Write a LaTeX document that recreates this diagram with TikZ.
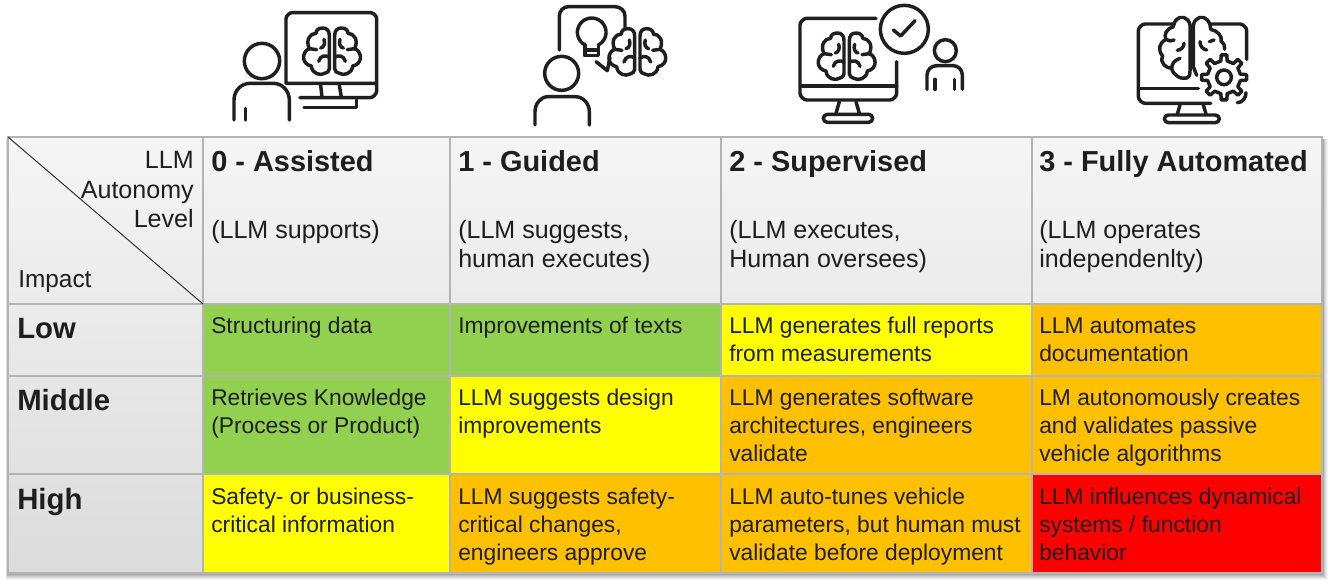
\documentclass[tikz,border=0pt]{standalone}
\usepackage{fontspec}
\setmainfont{Liberation Sans}
\definecolor{gridc}{HTML}{B4B4B4}
\definecolor{inkc}{HTML}{1E1E1E}
\definecolor{lowc}{HTML}{92D050}
\definecolor{midc}{HTML}{FFFF00}
\definecolor{higc}{HTML}{FFC000}
\definecolor{topc}{HTML}{FF0000}
\tikzset{
  icon/.style={line width=2.6pt,line cap=round,line join=round,black!88},
  body/.style={anchor=north west,inner sep=0pt,align=left,text=inkc,font=\fontsize{17.1}{21}\selectfont},
  rhead/.style={anchor=north east,inner sep=0pt,align=right,text=inkc,font=\fontsize{18.8}{22.4}\selectfont},
  sub/.style={anchor=north west,inner sep=0pt,align=left,text=inkc,font=\fontsize{18.8}{21.8}\selectfont},
  title/.style={anchor=base west,inner sep=0pt,text=inkc,font=\fontsize{21.7}{26}\selectfont\bfseries},
  level/.style={anchor=base west,inner sep=0pt,text=inkc,font=\fontsize{22}{26}\selectfont\bfseries},
  halfbrain/.pic={
    \draw[icon] (8,-43) .. controls (8,-58) and (15,-66) .. (28,-66)
      .. controls (40,-66) and (48,-60) .. (48,-50)
      .. controls (66,-50) and (80,-30) .. (68,-4)
      .. controls (90,4) and (94,42) .. (62,48)
      .. controls (60,72) and (34,78) .. (22,70)
      .. controls (14,68) and (8,64) .. (8,56) -- cycle;
    \draw[icon] (24,-32) .. controls (20,-20) and (24,-8) .. (34,-6);
    \draw[icon] (68,-4) -- (46,-1);
    \draw[icon] (8,22) .. controls (18,14) and (36,16) .. (40,34);
  }
}
\begin{document}
\begin{tikzpicture}[x=0.75pt,y=-0.75pt]
\useasboundingbox (0,0) rectangle (1330,585);
\fill[white] (0,0) rectangle (1330,585);
% table shadow
\foreach \s/\o in {7/.04,6/.05,5/.06,4/.07,3/.08,2/.09,1/.09}
  \fill[black,opacity=\o] (8-\s*0.35,139) rectangle (1322+\s*0.8,573+\s*1.0);
% header fills
\shade[top color=white!96!black,bottom color=white!92!black] (8,137) rectangle (1322,304);
\shade[top color=white!92!black,bottom color=white!86!black] (8,304) rectangle (203,573);
% heat cells
\fill[lowc] (203,304) rectangle (721,376);
\fill[higc] (721,304) rectangle (1322,376);
\fill[midc] (721,304) rectangle (1032,376);
\fill[lowc] (203,376) rectangle (450,474);
\fill[midc] (450,376) rectangle (721,474);
\fill[higc] (721,376) rectangle (1322,474);
\fill[midc] (203,474) rectangle (450,573);
\fill[higc] (450,474) rectangle (1032,573);
\fill[topc] (1032,474) rectangle (1322,573);
% grid
\draw[gridc,line width=1.1pt] (8,137) rectangle (1322,573);
\foreach \x in {203,450,721,1032} \draw[gridc,line width=1pt] (\x,137) -- (\x,573);
\foreach \y in {304,376,474} \draw[gridc,line width=1pt] (8,\y) -- (1322,\y);
\coordinate (diagA) at (8,137);
\coordinate (diagB) at (203,304);
\draw[black!85,line width=0.7pt] (diagA) -- (diagB);
% corner
\node[rhead] (corner) at (194,147) {\strut LLM\\Autonomy\\Level};
\node[anchor=base west,inner sep=0pt,text=inkc,font=\fontsize{18.3}{21}\selectfont] (impact) at (18,287) {Impact};
% column heads
\node[title] (t0) at (211,171) {0 - Assisted};
\node[title] (t1) at (458,171) {1 - Guided};
\node[title] (t2) at (729,171) {2 - Supervised};
\node[title] (t3) at (1039,171) {3 - Fully Automated};
\node[sub] (s0) at (211,218) {\strut (LLM supports)};
\node[sub] (s1) at (458,218) {\strut (LLM suggests,\\human executes)};
\node[sub] (s2) at (729,218) {\strut (LLM executes,\\Human oversees)};
\node[sub] (s3) at (1039,218) {\strut (LLM operates\\independenlty)};
% row heads
\node[level] (rlow) at (17,338) {Low};
\node[level] (rmid) at (17,410) {Middle};
\node[level] (rhig) at (17,509) {High};
% cells
\node[body] (c00) at (211,313.4) {\strut Structuring data};
\node[body] (c01) at (458,313.4) {\strut Improvements of texts};
\node[body] (c02) at (729,313.4) {\strut LLM generates full reports\\from measurements};
\node[body] (c03) at (1039,313.4) {\strut LLM automates\\documentation};
\node[body] (c10) at (211,385.4) {\strut Retrieves Knowledge\\(Process or Product)};
\node[body] (c11) at (458,385.4) {\strut LLM suggests design\\improvements};
\node[body] (c12) at (729,385.4) {\strut LLM generates software\\architectures, engineers\\validate};
\node[body] (c13) at (1039,385.4) {\strut LM autonomously creates\\and validates passive\\vehicle algorithms};
\node[body] (c20) at (211,484.4) {\strut Safety- or business-\\critical information};
\node[body] (c21) at (458,484.4) {\strut LLM suggests safety-\\critical changes,\\engineers approve};
\node[body] (c22) at (729,484.4) {\strut LLM auto-tunes vehicle\\parameters, but human must\\validate before deployment};
\node[body] (c23) at (1039,484.4) {\strut LLM influences dynamical\\systems / function\\behavior};
% icon 0
\begin{scope}[shift={(200,0)},x=0.25pt,y=-0.25pt]
  \draw[icon] (300,293) -- (510,293) to[out=0,in=-90,looseness=.8] (530,273) -- (530,56) to[out=90,in=0,looseness=.8] (512,38) -- (276,38) to[out=180,in=90,looseness=.8] (258,56) -- (258,250) -- (528,250);
  \draw[icon] (362,256) -- (366,291) (418,256) -- (424,291);
  \draw[icon] (312,322) -- (470,322) -- (470,300);
  \draw[icon] (186,183) circle (53);
  \draw[icon] (102,360) -- (102,300) to[out=90,in=180] (150,250) -- (220,250) to[out=0,in=90] (268,300) -- (268,360);
  \draw[icon] (137,325) -- (137,360);
  \pic[shift={(396,150)}] {halfbrain};
  \pic[shift={(396,150)},xscale=-1] {halfbrain};
\end{scope}
% icon 1
\begin{scope}[shift={(510,0)},x=0.25pt,y=-0.25pt]
  \draw[icon] (148,150) -- (148,48) to[out=90,in=180] (175,20) -- (315,20) to[out=0,in=90] (345,48) -- (345,88);
  \draw[icon] (225,135) arc[start angle=118,end angle=422,radius=43];
  \draw[icon] (225,135) -- (225,167) -- (265,167) -- (265,135) (225,150) -- (265,150);
  \draw[icon] (258,185) -- (292,212) -- (300,172);
  \begin{scope}[shift={(382,152)},scale=.8]
    \pic {halfbrain};
    \pic[xscale=-1] {halfbrain};
  \end{scope}
  \draw[icon] (155,220) circle (51);
  \draw[icon] (75,375) -- (75,335) to[out=90,in=180] (115,290) -- (195,290) to[out=0,in=90] (238,335) -- (238,375);
\end{scope}
% icon 2
\begin{scope}[shift={(780,0)},x=0.25pt,y=-0.25pt]
  \draw[icon] (288,55) -- (80,55) to[out=180,in=90,looseness=.8] (60,75) -- (60,280) to[out=-90,in=180,looseness=.8] (80,300) -- (330,300) to[out=0,in=-90,looseness=.8] (350,280) -- (350,185);
  \draw[icon] (62,258) -- (350,258);
  \draw[icon] (178,305) -- (168,340) (228,305) -- (238,340);
  \draw[icon,rounded corners=3pt] (130,343) rectangle (278,367);
  \begin{scope}[shift={(200,165)},scale=.95]
    \pic {halfbrain};
    \pic[xscale=-1] {halfbrain};
  \end{scope}
  \draw[icon] (373,88) circle (72);
  \draw[icon] (340,90) -- (362,108) -- (405,62);
  \draw[icon] (496,152) circle (33);
  \draw[icon] (441,268) -- (441,225) to[out=90,in=180] (470,197) -- (520,197) to[out=0,in=90] (547,225) -- (547,268);
  \draw[icon] (465,238) -- (465,268) (523,238) -- (523,268);
\end{scope}
% icon 3
\begin{scope}[shift={(1120,0)},x=0.25pt,y=-0.25pt]
  \draw[icon] (163,72) -- (75,72) to[out=180,in=90,looseness=.8] (55,92) -- (55,290) to[out=-90,in=180,looseness=.8] (75,310) -- (272,310);
  \draw[icon] (272,72) -- (360,72) to[out=0,in=90,looseness=.8] (380,92) -- (380,178);
  \draw[icon] (352,308) to[out=0,in=-90] (378,278);
  \draw[icon] (58,265) -- (235,265);
  \draw[icon] (180,315) -- (172,342) (250,315) -- (258,342);
  \draw[icon,rounded corners=3pt] (133,345) rectangle (298,368);
  % brain
  \draw[icon] (210,75) .. controls (205,50) and (180,45) .. (168,60) .. controls (162,68) and (160,74) .. (160,80)
     .. controls (140,85) and (130,105) .. (138,118) .. controls (118,128) and (112,150) .. (128,168)
     .. controls (118,190) and (140,205) .. (155,205) .. controls (158,225) and (185,240) .. (200,234)
     .. controls (208,232) and (210,225) .. (210,212) -- cycle;
  \draw[icon] (230,226) -- (220,200) -- (220,75) .. controls (225,50) and (250,45) .. (262,60) .. controls (270,70) and (272,78) .. (272,88)
     .. controls (292,92) and (308,108) .. (303,124) .. controls (312,130) and (316,140) .. (314,148);
  \draw[icon] (138,118) .. controls (146,124) and (154,124) .. (162,120);
  \draw[icon] (192,130) .. controls (192,142) and (182,150) .. (172,151);
  \draw[icon] (180,175) .. controls (165,180) and (155,190) .. (155,205);
  \draw[icon] (240,125) .. controls (240,138) and (248,148) .. (260,150);
  \draw[icon] (282,120) -- (268,125);
  % gear
  \begin{scope}[shift={(312,232)}]
    \draw[icon] (-11:50) \foreach \a in {0,45,...,315} { -- (\a-11:50) -- (\a-7:68) -- (\a+7:68) -- (\a+11:50) } -- cycle;
    \draw[icon] (0,0) circle (22);
  \end{scope}
\end{scope}
\end{tikzpicture}
\end{document}
